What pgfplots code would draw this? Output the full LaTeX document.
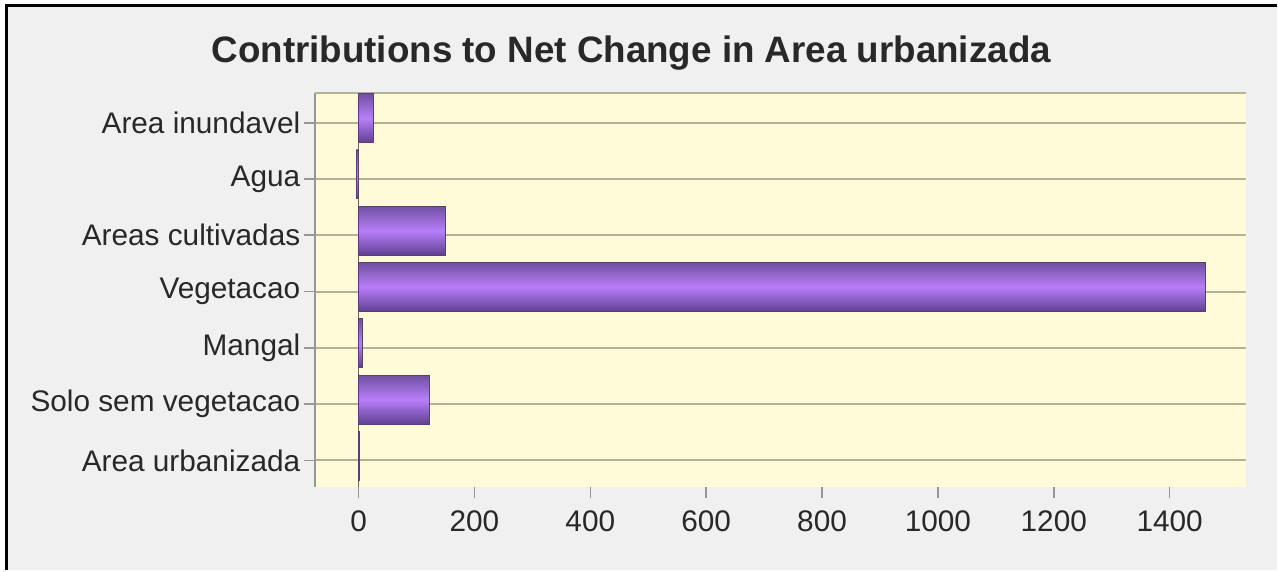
\documentclass[border=0pt]{standalone}
\usepackage{pgfplots}
\pgfplotsset{compat=1.18}
\usepackage{fontspec}
\setmainfont{Liberation Sans}
\definecolor{bggray}{RGB}{240,240,240}
\definecolor{plotbg}{RGB}{255,251,216}
\definecolor{gridc}{RGB}{178,178,150}
\definecolor{axgray}{RGB}{150,150,150}
\definecolor{bartop}{RGB}{112,80,162}
\definecolor{barmid}{RGB}{184,126,250}
\definecolor{barbot}{RGB}{96,64,146}
\definecolor{baredge}{RGB}{90,60,120}
\definecolor{txt}{RGB}{40,40,40}
\pgfplotsset{purplebar/.style={xbar, bar width=24.5pt, bar shift=2.3pt, draw=baredge, line width=0.4pt,
  top color=bartop, bottom color=barbot, middle color=barmid, forget plot}}
\begin{document}
\begin{tikzpicture}
\fill[white] (-157.5pt,-41.5pt) rectangle (481.5pt,244pt);
\fill[bggray] (-154.25pt,-41.5pt) rectangle (481.5pt,241.25pt);
\draw[black,line width=1.5pt] (-154.25pt,-41.5pt) -- (-154.25pt,241.25pt) -- (481.5pt,241.25pt);
\begin{axis}[
  scale only axis,
  width=466pt, height=197.5pt,
  at={(0pt,0pt)}, anchor=south west,
  xmin=-75.9, xmax=1531,
  ymin=-0.48, ymax=6.53,
  axis background/.style={fill=plotbg},
  axis x line*=bottom,
  axis y line*=left,
  x axis line style={draw=none},
  y axis line style={draw=axgray, line width=1pt},
  tick align=outside,
  major tick length=5.5pt,
  tick style={axgray, line width=0.8pt},
  xtick={0,200,...,1400},
  ytick={0,...,6},
  yticklabels={Area urbanizada,Solo sem vegetacao,Mangal,Vegetacao,Areas cultivadas,Agua,Area inundavel},
  ymajorgrids,
  major grid style={gridc, line width=1pt},
  ticklabel style={font=\fontsize{14.9}{16}\selectfont, text=txt},
  yticklabel style={inner sep=1.5pt},
  xticklabel style={inner sep=0pt, yshift=-6pt},
  /pgf/number format/assume math mode=true,
  /pgf/number format/1000 sep={},
  scaled x ticks=false,
  clip=false,
]
\draw[gridc, line width=1pt] (axis cs:-75.9,6.53) -- (axis cs:1531,6.53);
\draw[gray!80!black, line width=0.8pt] (axis cs:0,-0.48) -- (axis cs:0,6.53);
\addplot[purplebar] coordinates {(1,0)};
\addplot[purplebar] coordinates {(122,1)};
\addplot[purplebar] coordinates {(7,2)};
\addplot[purplebar] coordinates {(1462,3)};
\addplot[purplebar] coordinates {(150,4)};
\addplot[purplebar] coordinates {(-4,5)};
\addplot[purplebar] coordinates {(26,6)};
\end{axis}
\node[anchor=base, font=\bfseries\fontsize{18.4}{20}\selectfont, text=txt] at (158.5pt,212.8pt) {Contributions to Net Change in Area urbanizada};
\end{tikzpicture}
\end{document}
